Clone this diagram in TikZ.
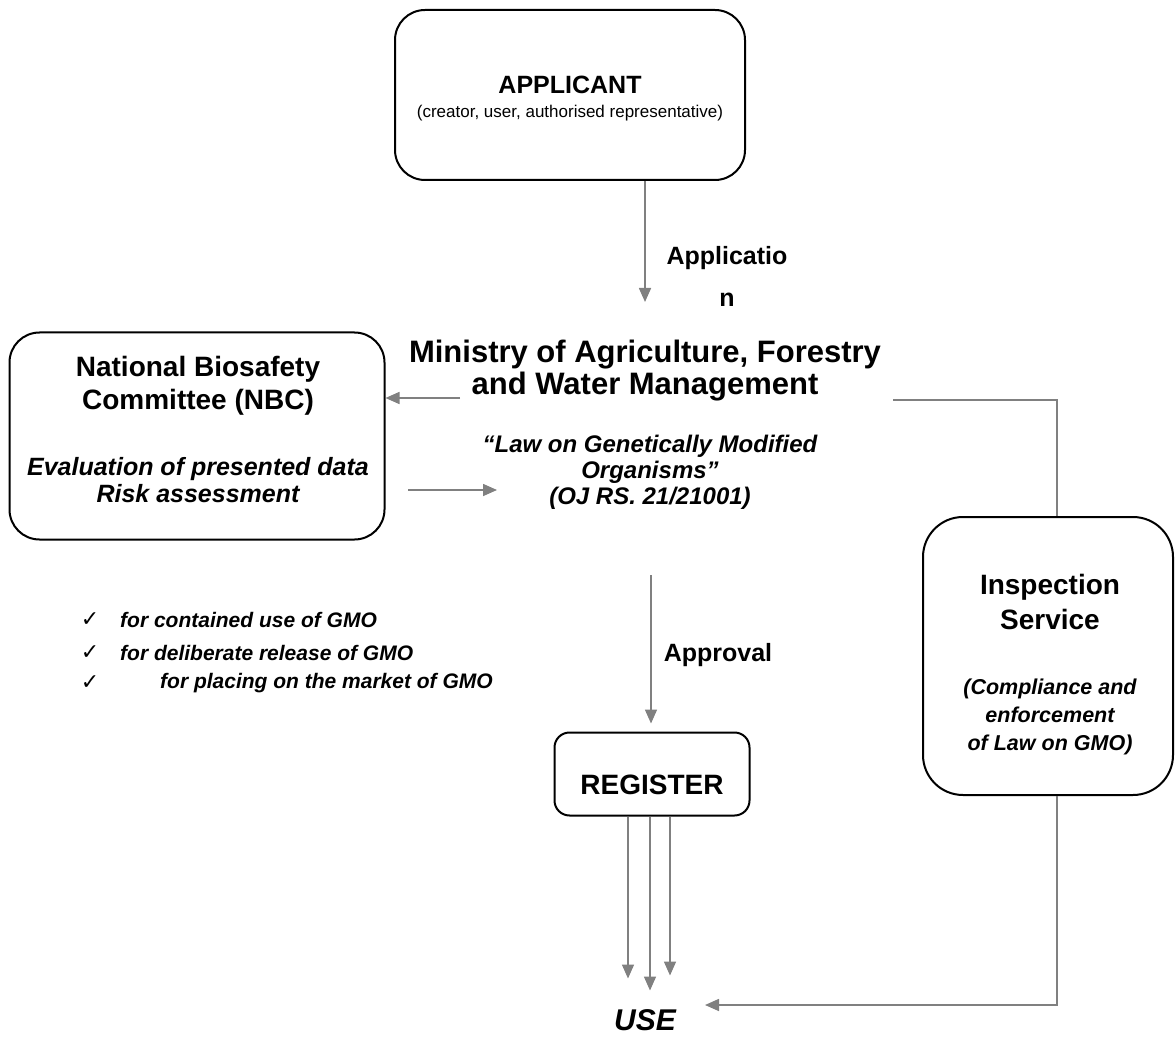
\documentclass[tikz,border=0pt]{standalone}
\usepackage{fontspec}
\setmainfont{Liberation Sans}
\newfontfamily\symfont{DejaVu Sans}
\usetikzlibrary{arrows.meta,positioning}
\definecolor{LineGray}{HTML}{808080}
\begin{document}
\begin{tikzpicture}[x=1pt,y=-1pt,
    box/.style={draw=black,line width=2pt,rounded corners=30pt,inner sep=0pt},
    head/.style={font=\bfseries\fontsize{25}{33}\selectfont,align=center,inner sep=0pt},
    note/.style={font=\bfseries\itshape\fontsize{21}{27}\selectfont,align=center,inner sep=0pt},
    arr/.style={LineGray,line width=1.6pt,-{Triangle[length=14pt,width=12pt]}},
    link/.style={LineGray,line width=1.6pt}]
  \useasboundingbox (0,0) rectangle (1175,1040);

  % boxes
  \node[box,minimum width=350pt,minimum height=170pt] (applicant) at (570,95) {};
  \node[head] (appname) at (570,85) {APPLICANT};
  \node[font=\fontsize{17}{20}\selectfont,inner sep=0pt] (approle) at (570,113)
    {(creator, user, authorised representative)};

  \node[box,minimum width=375pt,minimum height=207pt] (nbc) at (197,436) {};
  \node[head,font=\bfseries\fontsize{28}{33}\selectfont] (nbcname) at (198,386)
    {National Biosafety\\Committee (NBC)};
  \node[note,font=\bfseries\itshape\fontsize{25}{27}\selectfont] (nbctask) at (198,480)
    {Evaluation of presented data\\Risk assessment};

  \node[box,rounded corners=40pt,minimum width=250pt,minimum height=278pt] (insp) at (1048,656) {};
  \node[head,font=\bfseries\fontsize{28}{35}\selectfont] (inspname) at (1050,602) {Inspection\\Service};
  \node[note,font=\bfseries\itshape\fontsize{21.5}{28}\selectfont] (insptask) at (1050,717)
    {(Compliance and\\enforcement\\of Law on GMO)};

  \node[box,rounded corners=15pt,minimum width=195pt,minimum height=83pt] (register) at (652,774) {};
  \node[head,font=\bfseries\fontsize{28}{33}\selectfont] (regname) at (652,785) {REGISTER};

  % free texts
  \node[head,font=\bfseries\fontsize{31}{32}\selectfont] (ministry) at (645,371)
    {Ministry of Agriculture, Forestry\\and Water Management};
  \node[note,font=\bfseries\itshape\fontsize{24}{26}\selectfont] (law) at (650,472)
    {“Law on Genetically Modified\\Organisms”\\(OJ RS. 21/21001)};
  \node[head] (appl) at (727,276) {Applicatio\\[9pt]n};
  \node[head] (approval) at (718,655) {Approval};
  \node[head,font=\bfseries\itshape\fontsize{30}{32}\selectfont] (use) at (645,1020) {USE};

  \foreach \i/\yy/\xx/\txt in {1/620/120/for contained use of GMO,
                               2/653/120/for deliberate release of GMO,
                               3/683/160/for placing on the market of GMO}{
    \node[font=\symfont\fontsize{22}{24}\selectfont,inner sep=0pt] (chk\i) at (90,\yy) {✓};
    \node[note,anchor=west] (kind\i) at (\xx,\yy) {\txt};
  }

  % connectors
  \coordinate (ministrytop) at (645,302);
  \coordinate (toNBC) at (460,398);
  \coordinate (fromNBC) at (408,490);
  \coordinate (toLaw) at (497,490);
  \coordinate (toInsp) at (893,400);
  \coordinate (fromLaw) at (651,575);
  \coordinate (useRight) at (705,1005);

  \draw[arr] (applicant.south -| ministrytop) -- (ministrytop);
  \draw[arr] (toNBC) -- (toNBC -| nbc.east);
  \draw[arr] (fromNBC) -- (toLaw);
  \draw[link] (toInsp) -| ([xshift=9pt]insp.north);
  \draw[arr,shorten >=8pt] (fromLaw) -- (fromLaw |- register.north);
  \foreach \dx/\len in {-24/162,-2/174,18/159}{
    \draw[arr] ([xshift=\dx pt]register.south) -- ++(0,\len);
  }
  \draw[arr] ([xshift=9pt]insp.south) |- (useRight);
\end{tikzpicture}
\end{document}
